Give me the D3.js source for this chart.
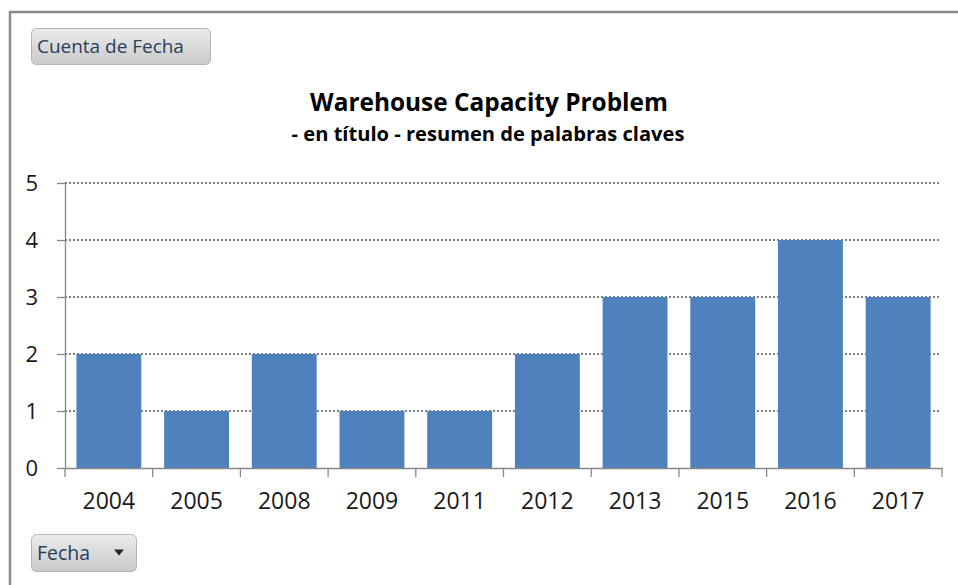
<!DOCTYPE html>
<html><head><meta charset="utf-8">
<script src="https://cdn.jsdelivr.net/npm/d3@7"></script>
<style>
html,body{margin:0;padding:0;background:#fff;}
svg{display:block;}
</style></head>
<body>
<svg id="chart" width="958" height="585"></svg>
<script>
const categories = ["2004","2005","2008","2009","2011","2012","2013","2015","2016","2017"];
const values = [2,1,2,1,1,2,3,3,4,3];
const yTicks = [0,1,2,3,4,5];
const titleText = "Warehouse Capacity Problem";
const subtitleText = "- en título - resumen de palabras claves";
const valueButtonText = "Cuenta de Fecha";
const axisButtonText = "Fecha";

const svg = d3.select("#chart");
const FONT = "'Open Sans', 'Noto Sans', sans-serif";

const defs = svg.append("defs");
const grad = defs.append("linearGradient").attr("id","btn").attr("x1",0).attr("y1",0).attr("x2",0).attr("y2",1);
grad.append("stop").attr("offset","0%").attr("stop-color","#ececec");
grad.append("stop").attr("offset","100%").attr("stop-color","#c9c9c9");

// frame
svg.append("path").attr("d","M10,600 V12 H970").attr("fill","none").attr("stroke","#8a8a8a").attr("stroke-width",2.5);

const m = {left:65, right:942, top:183, bottom:468};
const x = d3.scaleBand().domain(categories).range([m.left,m.right]).paddingInner(0.26).paddingOuter(0.13);
const y = d3.scaleLinear().domain([0,5]).range([m.bottom,m.top]);

// gridlines
svg.append("g").selectAll("line").data(yTicks.filter(d=>d>0)).join("line")
  .attr("x1",m.left).attr("x2",m.right-3).attr("y1",d=>y(d)).attr("y2",d=>y(d))
  .attr("stroke","#7f7f7f").attr("stroke-width",2).attr("stroke-dasharray","2,2");

// bars
svg.append("g").selectAll("rect").data(values).join("rect")
  .attr("x",(d,i)=>x(categories[i])).attr("width",x.bandwidth())
  .attr("y",d=>y(d)).attr("height",d=>y(0)-y(d))
  .attr("fill","#4f81bd");

// y axis
const ya = svg.append("g").attr("transform",`translate(${m.left},0)`)
  .call(d3.axisLeft(y).tickValues(yTicks).tickSize(8).tickPadding(19).tickSizeOuter(0).tickFormat(d3.format("d")));
ya.select(".domain").attr("stroke","#868686").attr("stroke-width",1.3);
ya.selectAll(".tick line").attr("stroke","#868686").attr("stroke-width",1.3);
ya.selectAll("text").attr("font-family",FONT).attr("font-size",22).attr("fill","#1a1a1a");

// x axis
const xa = svg.append("g").attr("transform",`translate(0,${m.bottom})`)
  .call(d3.axisBottom(x).tickSize(0).tickPadding(25).tickSizeOuter(0));
xa.select(".domain").attr("stroke","#868686").attr("stroke-width",1.3);
xa.selectAll("text").attr("font-family",FONT).attr("font-size",23).attr("fill","#1a1a1a");
// category boundary ticks
const step = x.step();
const bounds = categories.map(c=>x(c) - step*x.paddingInner()/2).concat([m.right]);
bounds[0] = m.left;
svg.append("g").selectAll("line").data(bounds).join("line")
  .attr("x1",d=>d).attr("x2",d=>d).attr("y1",m.bottom).attr("y2",m.bottom+9)
  .attr("stroke","#868686").attr("stroke-width",1.3);

function fitText(sel, target){
  const n = sel.node();
  let fs = +sel.attr("font-size");
  const w = n.getComputedTextLength();
  sel.attr("font-size", fs*target/w);
}
const t1 = svg.append("text").attr("x",489).attr("y",111).attr("text-anchor","middle")
  .attr("font-family",FONT).attr("font-weight","bold").attr("font-size",22).attr("fill","#000").text(titleText);
fitText(t1,358);
const t2 = svg.append("text").attr("x",488).attr("y",141).attr("text-anchor","middle")
  .attr("font-family",FONT).attr("font-weight","bold").attr("font-size",17).attr("fill","#000").text(subtitleText);
fitText(t2,393);

function button(x0,y0,w,h,label,arrow){
  const g = svg.append("g");
  g.append("rect").attr("x",x0+0.5).attr("y",y0+0.5).attr("width",w).attr("height",h).attr("rx",5)
    .attr("fill","url(#btn)").attr("stroke","#b5b5b5");
  const t = g.append("text").attr("x",x0+6).attr("y",y0+h/2+7).attr("font-family",FONT)
    .attr("font-size",19).attr("fill","#283d5c").text(label);
  if(arrow){
    const cx = x0+w-17, cy = y0+h/2;
    g.append("path").attr("d",`M${cx-5},${cy-3} L${cx+5},${cy-3} L${cx},${cy+3} Z`).attr("fill","#222");
  }
  return t;
}
const b1 = button(31,28,179,36,valueButtonText,false);
fitText(b1,147);
const b2 = button(31,534,105,37,axisButtonText,true);
fitText(b2,53);
</script>
</body></html>
